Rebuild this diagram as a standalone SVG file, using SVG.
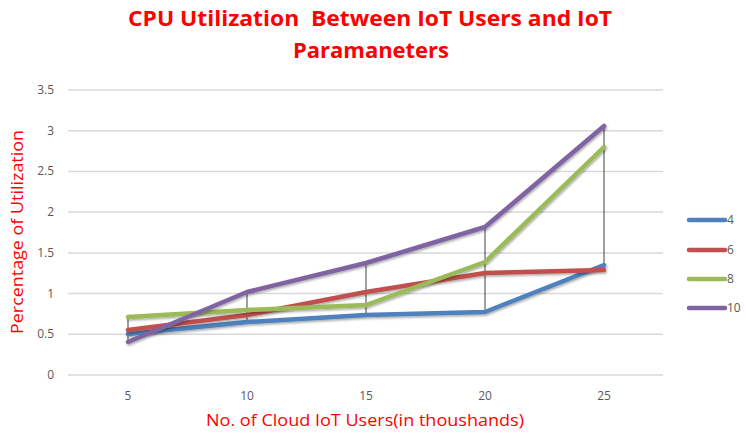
<svg xmlns="http://www.w3.org/2000/svg" width="746" height="436" viewBox="0 0 746 436">
<style>
.title{font-family:"Open Sans","Liberation Sans",sans-serif;font-weight:bold;font-size:22px;fill:#FF0000;text-anchor:middle;white-space:pre}
.axt{font-family:"Open Sans","Liberation Sans",sans-serif;font-size:17px;fill:#FF0000;text-anchor:middle}
.tick{font-family:"Open Sans","Liberation Sans",sans-serif;font-size:12px;fill:#595959}
.grid{stroke:#D9D9D9;stroke-width:1.5}
.s{fill:none;stroke-width:4.5;stroke-linejoin:round;stroke-linecap:round;filter:url(#sh)}
.hl{stroke:#404040;stroke-width:1}
.lg{stroke-width:4.5;stroke-linecap:round}
</style>
<defs>
<filter id="sh" x="-5%" y="-20%" width="110%" height="140%">
<feDropShadow dx="1" dy="1.5" stdDeviation="1" flood-color="#000" flood-opacity="0.35"/>
</filter>
</defs>
<rect width="746" height="436" fill="#FFFFFF"/>
<g id="title">
<text class="title" x="370" y="26" xml:space="preserve" textLength="484" lengthAdjust="spacingAndGlyphs">CPU Utilization  Between IoT Users and IoT</text>
<text class="title" x="371" y="58" textLength="156" lengthAdjust="spacingAndGlyphs">Paramaneters</text>
</g>
<g id="grid">
<line class="grid" x1="68" y1="90" x2="663" y2="90"/>
<line class="grid" x1="68" y1="130.7" x2="663" y2="130.7"/>
<line class="grid" x1="68" y1="171.4" x2="663" y2="171.4"/>
<line class="grid" x1="68" y1="212.1" x2="663" y2="212.1"/>
<line class="grid" x1="68" y1="252.9" x2="663" y2="252.9"/>
<line class="grid" x1="68" y1="293.6" x2="663" y2="293.6"/>
<line class="grid" x1="68" y1="334.3" x2="663" y2="334.3"/>
<line class="grid" x1="68" y1="375" x2="663" y2="375"/>
</g>
<g id="y-ticks" text-anchor="end">
<text class="tick" x="54" y="94">3.5</text>
<text class="tick" x="54" y="134.7">3</text>
<text class="tick" x="54" y="175.4">2.5</text>
<text class="tick" x="54" y="216.1">2</text>
<text class="tick" x="54" y="256.9">1.5</text>
<text class="tick" x="54" y="297.6">1</text>
<text class="tick" x="54" y="338.3">0.5</text>
<text class="tick" x="54" y="379">0</text>
</g>
<g id="x-ticks" text-anchor="middle">
<text class="tick" x="128" y="400">5</text>
<text class="tick" x="247" y="400">10</text>
<text class="tick" x="366" y="400">15</text>
<text class="tick" x="485" y="400">20</text>
<text class="tick" x="604" y="400">25</text>
</g>
<g id="axis-titles">
<text class="axt" x="365" y="426" textLength="318" lengthAdjust="spacingAndGlyphs">No. of Cloud IoT Users(in thoushands)</text>
<text class="axt" x="23" y="232" transform="rotate(-90 23 232)" textLength="204" lengthAdjust="spacingAndGlyphs">Percentage of Utilization</text>
</g>
<g id="connectors">
<line class="hl" x1="128" y1="316" x2="128" y2="342"/>
<line class="hl" x1="247" y1="292" x2="247" y2="322"/>
<line class="hl" x1="366" y1="263" x2="366" y2="316"/>
<line class="hl" x1="485" y1="227" x2="485" y2="312"/>
<line class="hl" x1="604" y1="126" x2="604" y2="270"/>
</g>
<g id="series-4"><polyline class="s" stroke="#4F81BD" points="128,334 247,322 366,315 485,312 604,265"/></g>
<g id="series-6"><polyline class="s" stroke="#C0504D" points="128,330 247,315 366,292 485,273 604,270"/></g>
<g id="series-8"><polyline class="s" stroke="#9BBB59" points="128,317 247,310 366,305 485,262 604,147"/></g>
<g id="series-10"><polyline class="s" stroke="#8064A2" points="128,342 247,292 366,263 485,227 604,126"/></g>
<g id="legend">
<line class="lg" stroke="#4F81BD" x1="689" y1="220" x2="725" y2="220"/>
<text class="tick" x="727" y="224">4</text>
<line class="lg" stroke="#C0504D" x1="689" y1="250" x2="725" y2="250"/>
<text class="tick" x="727" y="254">6</text>
<line class="lg" stroke="#9BBB59" x1="689" y1="279" x2="725" y2="279"/>
<text class="tick" x="727" y="283">8</text>
<line class="lg" stroke="#8064A2" x1="689" y1="308" x2="725" y2="308"/>
<text class="tick" x="727" y="312">10</text>
</g>
</svg>
